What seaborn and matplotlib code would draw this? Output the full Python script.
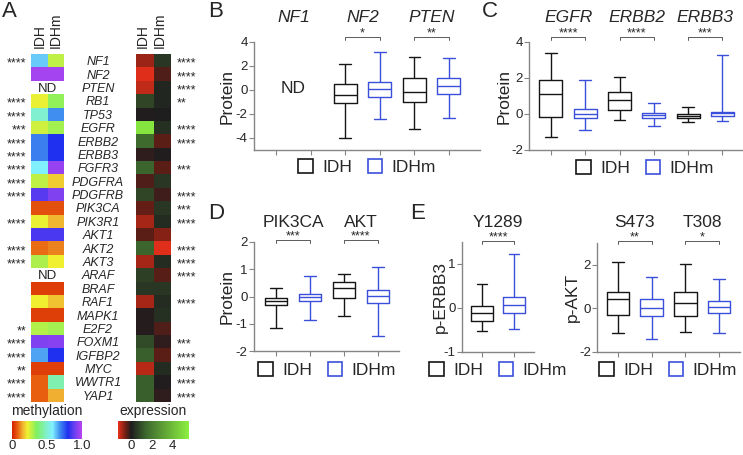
import numpy as np
import pandas as pd
import matplotlib
matplotlib.use("Agg")
import matplotlib.pyplot as plt
from matplotlib import transforms
from matplotlib.colors import LinearSegmentedColormap
from matplotlib.patches import Patch
import seaborn as sns

#%% data
nan = np.nan
genes = ["NF1", "NF2", "PTEN", "RB1", "TP53", "EGFR", "ERBB2", "ERBB3", "FGFR3",
         "PDGFRA", "PDGFRB", "PIK3CA", "PIK3R1", "AKT1", "AKT2", "AKT3", "ARAF",
         "BRAF", "RAF1", "MAPK1", "E2F2", "FOXM1", "IGFBP2", "MYC", "WWTR1", "YAP1"]
meth_idh = [0.62, 0.97, nan, 0.23, 0.5, 0.26, 0.7, 0.7, 0.58, 0.28, 0.87, 0.06, 0.23,
            0.85, 0.09, 0.3, nan, 0.04, 0.22, 0.04, 0.29, 0.92, 0.66, 0.04, 0.08, 0.08]
meth_idhm = [0.28, 0.97, nan, 0.33, 0.68, 0.31, 0.8, 0.8, 0.95, 0.18, 0.92, 0.06, 0.16,
             0.85, 0.11, 0.22, nan, 0.04, 0.17, 0.04, 0.31, 0.93, 0.8, 0.04, 0.46, 0.15]
meth_stars = ["****", "", "", "****", "****", "***", "****", "****", "****", "****",
              "****", "", "****", "", "****", "****", "", "", "", "", "**", "****",
              "****", "**", "****", "****"]
expr_idh = [-0.8, -1.2, -1.0, 0.8, 0.0, 5.3, 1.5, -0.1, 1.4, -0.3, 0.8, -0.45, -0.85,
            -0.4, 1.4, -0.85, 0.7, 0.5, -0.85, -0.05, -0.05, 0.9, 1.3, -0.95, 1.3, 1.3]
expr_idhm = [0.5, -0.3, 0.2, 0.2, 0.05, 0.4, -0.4, 0.0, -0.4, 0.5, -0.2, 0.5, 0.3,
             -0.65, -1.2, 0.3, -0.35, 0.5, 0.3, 0.4, -0.3, -0.1, -0.4, 0.3, 0.0, -0.1]
expr_stars = ["****", "****", "****", "**", "", "****", "****", "", "***", "", "****",
              "***", "****", "", "****", "****", "****", "", "****", "", "", "***",
              "****", "****", "****", "****"]

# box summaries: [min, q1, median, q3, max]
b_genes = ["NF1", "NF2", "PTEN"]
b_idh = [None, [-4.0, -1.05, -0.45, 0.5, 2.2], [-3.25, -1.0, -0.14, 1.03, 2.77]]
b_idhm = [None, [-2.4, -0.6, 0.05, 0.7, 3.2], [-2.33, -0.36, 0.34, 0.98, 2.66]]
b_stars = ["", "*", "**"]

c_genes = ["EGFR", "ERBB2", "ERBB3"]
c_idh = [[-1.3, -0.17, 1.09, 1.9, 3.4], [-0.33, 0.22, 0.78, 1.24, 2.05],
         [-0.44, -0.24, -0.11, -0.02, 0.39]]
c_idhm = [[-0.9, -0.24, 0.02, 0.3, 1.87], [-0.67, -0.2, -0.07, 0.04, 0.59],
          [-0.39, -0.11, 0.04, 0.13, 3.26]]
c_stars = ["****", "****", "***"]

d_genes = ["PIK3CA", "AKT"]
d_idh = [[-1.16, -0.3, -0.16, -0.06, 0.31], [-0.71, -0.04, 0.31, 0.55, 0.83]]
d_idhm = [[-0.86, -0.16, 0.0, 0.1, 0.77], [-1.45, -0.24, 0.03, 0.25, 1.1]]
d_stars = ["***", "****"]

e1_sites = ["Y1289"]
e1_idh = [[-0.53, -0.3, -0.11, 0.04, 0.55]]
e1_idhm = [[-0.48, -0.11, 0.06, 0.26, 1.23]]
e1_stars = ["****"]

e2_sites = ["S473", "T308"]
e2_idh = [[-1.14, -0.3, 0.43, 0.73, 2.15], [-1.07, -0.33, 0.25, 0.76, 2.03]]
e2_idhm = [[-1.4, -0.37, 0.03, 0.43, 1.42], [-1.13, -0.21, 0.05, 0.35, 1.37]]
e2_stars = ["**", "*"]

#%% style
sns.set_style("ticks")
plt.rcParams["font.family"] = ["Liberation Sans", "DejaVu Sans"]

W, H = 743, 455
fig = plt.figure(figsize=(W / 100, H / 100), dpi=100)
BLACK, BLUE = "#151515", "#3b50da"
GRAY = "#858585"


def fy(ypx):
    return 1 - ypx / H


def px_axes(l, t, r, b):
    return fig.add_axes([l / W, 1 - b / H, (r - l) / W, (b - t) / H])


#%% panel A
meth_cmap = LinearSegmentedColormap.from_list("meth", [
    (0.0, "#d42000"), (0.08, "#e86010"), (0.15, "#f0b030"), (0.22, "#f0f030"),
    (0.35, "#80f060"), (0.5, "#80f0d0"), (0.58, "#80f0ff"), (0.68, "#4090f0"),
    (0.8, "#2030f0"), (0.9, "#7040f0"), (1.0, "#b844f0")])
ev0, ev1 = -1.27, 5.66
en = lambda v: (v - ev0) / (ev1 - ev0)
expr_cmap = LinearSegmentedColormap.from_list("expr", [
    (0.0, "#e8301a"), (en(-0.6), "#7a1f14"), (en(0), "#1e1c1e"),
    (en(1.5), "#3e6a2e"), (1.0, "#8cf040")])

meth_df = pd.DataFrame({"IDH": meth_idh, "IDHm": meth_idhm}, index=genes)
expr_df = pd.DataFrame({"IDH": expr_idh, "IDHm": expr_idhm}, index=genes)

row_top, row_bot = 54, 402
ax_m = px_axes(31, row_top, 64, row_bot)
cax_m = px_axes(12, 421, 82, 439)
sns.heatmap(meth_df, ax=ax_m, cmap=meth_cmap, vmin=0, vmax=1, cbar_ax=cax_m,
            cbar_kws={"orientation": "horizontal", "ticks": [0, 0.5, 1.0]},
            xticklabels=False, yticklabels=False)
ax_e = px_axes(136, row_top, 171, row_bot)
cax_e = px_axes(118, 421, 189, 439)
sns.heatmap(expr_df, ax=ax_e, cmap=expr_cmap, vmin=ev0, vmax=ev1, cbar_ax=cax_e,
            cbar_kws={"orientation": "horizontal", "ticks": [0, 2, 4]},
            xticklabels=False, yticklabels=False)
for a in (ax_m, ax_e):
    a.set_xlabel("")
    a.set_ylabel("")
for cax, labs in ((cax_m, ["0", "0.5", "1.0"]), (cax_e, ["0", "2", "4"])):
    cax.set_xticklabels(labs)
    cax.tick_params(length=0, labelsize=9.5, pad=1)
    for s in cax.spines.values():
        s.set_visible(False)
ax_m.collections[0].colorbar.outline.set_visible(False)
ax_e.collections[0].colorbar.outline.set_visible(False)

fig.text(47 / W, fy(411), "methylation", ha="center", va="center", fontsize=10)
fig.text(153 / W, fy(411), "expression", ha="center", va="center", fontsize=10)
for x, lab in ((39.5, "IDH"), (56, "IDHm"), (143, "IDH"), (160, "IDHm")):
    fig.text(x / W, fy(48), lab, rotation=90, ha="center", va="bottom", fontsize=10)

rh = (row_bot - row_top) / len(genes)
for i, g in enumerate(genes):
    yc = row_top + (i + 0.5) * rh
    fig.text(98 / W, fy(yc), g, ha="center", va="center_baseline", fontsize=9,
             style="italic")
    if meth_stars[i]:
        fig.text(26 / W, fy(yc + 6), meth_stars[i], ha="right", va="baseline",
                 fontsize=9)
    if expr_stars[i]:
        fig.text(177 / W, fy(yc + 6), expr_stars[i], ha="left", va="baseline",
                 fontsize=9)
    if np.isnan(meth_idh[i]):
        fig.text(47.5 / W, fy(yc), "ND", ha="center", va="center_baseline", fontsize=9.5)


#%% box panels
def box_panel(rect, names, idh, idhm, stars, xlim, ylim, yticks, ylabel, ylab_x,
              title_y, bracket_y, legend_c, italic):
    ax = px_axes(*rect)
    rows, order = [], []
    for gi, g in enumerate(names):
        for grp, summ in (("IDH", idh[gi]), ("IDHm", idhm[gi])):
            pos = g + " " + grp
            order.append(pos)
            if summ is None:
                continue
            for v in summ:
                rows.append((pos, grp, v))
    df = pd.DataFrame(rows, columns=["pos", "group", "value"])
    sns.boxplot(data=df, x="pos", y="value", hue="group", order=order,
                hue_order=["IDH", "IDHm"], palette={"IDH": BLACK, "IDHm": BLUE},
                dodge=False, fill=False, whis=(0, 100), width=0.67, linewidth=1.0,
                legend=False, ax=ax)
    ax.set_xlim(*xlim)
    ax.set_ylim(*ylim)
    ax.set_yticks(yticks)
    ax.set_yticklabels([str(t) for t in yticks])
    ax.set_xticks(range(len(order)))
    ax.set_xticklabels([])
    ax.set_xlabel("")
    ax.set_ylabel(ylabel, fontsize=12.5)
    ax.yaxis.set_label_coords(ylab_x / W, fy((rect[1] + rect[3]) / 2),
                              transform=fig.transFigure)
    sns.despine(ax=ax)
    for s in ("left", "bottom"):
        ax.spines[s].set_color(GRAY)
        ax.spines[s].set_linewidth(1.0)
    ax.tick_params(length=3.5, width=0.8, color=GRAY, labelsize=9.5, pad=1)

    blend = transforms.blended_transform_factory(ax.transData, fig.transFigure)
    for gi, g in enumerate(names):
        x0, x1 = 2 * gi, 2 * gi + 1
        ax.text(x0 + 0.5, fy(title_y), g, transform=blend, ha="center", va="center",
                fontsize=12.5, style="italic" if italic else "normal")
        if stars[gi]:
            ax.plot([x0, x0, x1, x1],
                    [fy(bracket_y + 3), fy(bracket_y), fy(bracket_y), fy(bracket_y + 3)],
                    transform=blend, clip_on=False, color="#5a5a5a", lw=0.7)
            ax.text(x0 + 0.5, fy(bracket_y - 0.5), stars[gi], transform=blend,
                    ha="center", va="baseline", fontsize=9)
    handles = [Patch(facecolor="white", edgecolor=c, linewidth=1.2) for c in (BLACK, BLUE)]
    ax.legend(handles, ["IDH", "IDHm"], loc="center",
              bbox_to_anchor=(legend_c[0] / W, fy(legend_c[1])),
              bbox_transform=fig.transFigure, ncol=2, frameon=False, fontsize=12.5,
              handlelength=0.85, handleheight=0.85, handletextpad=0.55,
              columnspacing=0.9, borderpad=0, borderaxespad=0)
    return ax


ax_b = box_panel((254, 42, 480, 150), b_genes, b_idh, b_idhm, b_stars, (-0.64, 5.9),
                 (-5, 4), [-4, -2, 0, 2, 4], "Protein", 235, 18, 37, (367, 167), True)
ax_b.text(0.5, 0.15, "ND", ha="center", va="center", fontsize=12.5)
box_panel((529, 42, 743, 150), c_genes, c_idh, c_idhm, c_stars, (-0.64, 5.6),
          (-2, 4), [-2, 0, 2, 4], "Protein", 512, 18, 37, (645, 168), True)
box_panel((254, 242, 399, 351), d_genes, d_idh, d_idhm, d_stars, (-0.65, 3.62),
          (-2, 2), [-2, -1, 0, 1, 2], "Protein", 235, 222, 240, (327, 370), False)
box_panel((462, 242, 534, 352), e1_sites, e1_idh, e1_idhm, e1_stars, (-0.62, 1.62),
          (-1, 1.5), [-1, 0, 1], "p-ERBB3", 448, 222, 241, (498, 370), False)
box_panel((597, 243, 740, 352), e2_sites, e2_idh, e2_idhm, e2_stars, (-0.62, 3.62),
          (-2, 3), [-2, 0, 2], "p-AKT", 580, 222, 241, (668, 370), False)

for lab, x, y in (("A", 2, 1), ("B", 208, 1), ("C", 482, 1), ("D", 208, 203), ("E", 410, 203)):
    fig.text(x / W, fy(y), lab, ha="left", va="top", fontsize=16)

fig.savefig("out.png", dpi=100)
